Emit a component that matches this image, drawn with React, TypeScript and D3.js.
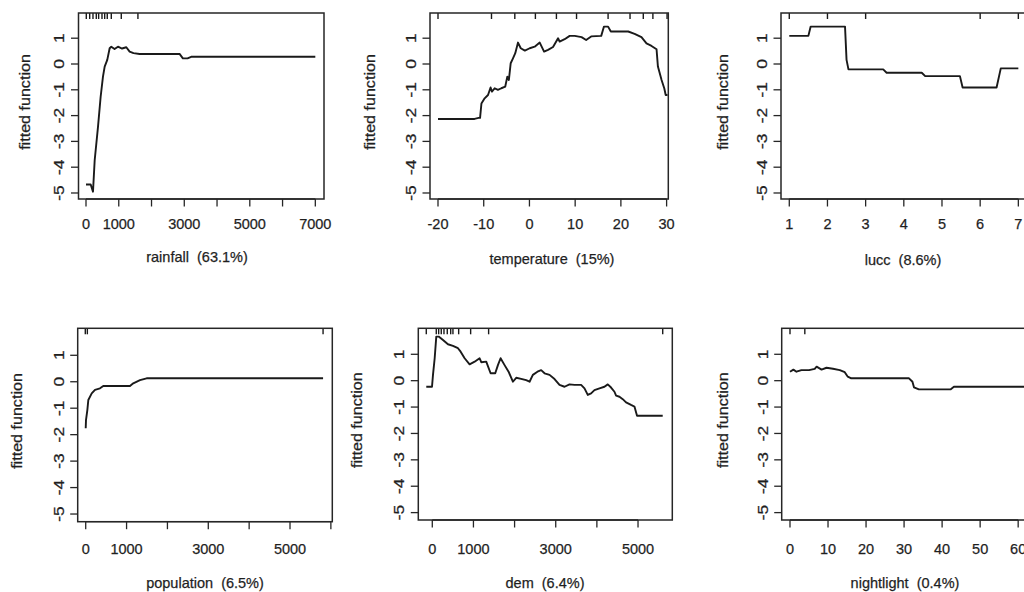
import React from "react";
import * as d3 from "d3";

// ---------- data ----------
const rainfallX = [0, 143, 213, 265, 366, 447, 518, 570, 649, 722, 772, 872, 976, 1100, 1230, 1332, 1450, 1636, 2856, 2957, 3100, 3210, 7000];
const rainfallY = [-4.67, -4.67, -4.95, -3.73, -2.44, -1.27, -0.49, -0.1, 0.16, 0.61, 0.67, 0.58, 0.67, 0.6, 0.65, 0.48, 0.42, 0.39, 0.39, 0.22, 0.22, 0.28, 0.28];
const rainfallRug = [9, 113, 213, 314, 386, 488, 570, 649, 772, 1077, 1585];
const rainfallTicks = [0, 1000, 2000, 3000, 4000, 5000, 6000, 7000];
const rainfallTickLabels = ["0", "1000", "", "3000", "", "5000", "", "7000"];

const temperatureX = [-20, -12, -11.1, -10.8, -10.5, -9.8, -9.06, -8.5, -8.2, -7.6, -6.9, -6.15, -5.3, -4.84, -4.5, -4.1, -3.6, -3.1, -2.5, -1.9, -1.0, 0.06, 1.15, 2.25, 3.2, 4.07, 5.16, 6.26, 6.6, 7.7, 8.8, 9.9, 11.4, 12.4, 13.5, 15.7, 16.3, 17.2, 17.8, 18.7, 21.6, 23.0, 24.5, 25.6, 26.7, 27.8, 28.1, 28.9, 29.5, 29.8, 30.2];
const temperatureY = [-2.13, -2.13, -2.09, -2.09, -1.53, -1.33, -1.2, -0.91, -1.07, -0.94, -1.0, -0.94, -0.88, -0.49, -0.62, 0.03, 0.22, 0.42, 0.83, 0.61, 0.52, 0.61, 0.67, 0.83, 0.48, 0.55, 0.66, 1.0, 0.87, 0.96, 1.09, 1.09, 1.04, 0.93, 1.07, 1.09, 1.45, 1.45, 1.26, 1.26, 1.26, 1.17, 1.04, 0.8, 0.7, 0.57, -0.1, -0.62, -0.95, -1.2, -1.2];
const temperatureRug = [-20, -8.3, -3.2, 1.3, 5.9, 10.3, 17.2, 22, 24.9, 27.0, 30.1];
const temperatureTicks = [-20, -10, 0, 10, 20, 30];
const temperatureTickLabels = ["-20", "-10", "0", "10", "20", "30"];

const luccX = [1, 1.5, 1.56, 2.46, 2.5, 2.55, 3.46, 3.55, 4.47, 4.56, 5.47, 5.54, 6.43, 6.54, 7];
const luccY = [1.09, 1.09, 1.45, 1.45, 0.16, -0.21, -0.21, -0.34, -0.34, -0.47, -0.47, -0.91, -0.91, -0.17, -0.17];
const luccRug = [1, 2, 3, 6, 7];
const luccTicks = [1, 2, 3, 4, 5, 6, 7];
const luccTickLabels = ["1", "2", "3", "4", "5", "6", "7"];

const populationX = [0, 7, 40, 64, 147, 227, 350, 430, 1083, 1164, 1328, 1491, 5809];
const populationY = [-1.76, -1.45, -1.07, -0.69, -0.44, -0.31, -0.25, -0.16, -0.16, -0.06, 0.06, 0.13, 0.13];
const populationRug = [-10, 40, 5809];
const populationTicks = [0, 1000, 2000, 3000, 4000, 5000, 6000];
const populationTickLabels = ["0", "1000", "", "3000", "", "5000", ""];

const demX = [-146, -7, 17, 58, 97, 155, 260, 381, 502, 624, 689, 786, 907, 1029, 1150, 1190, 1311, 1417, 1530, 1595, 1660, 1757, 1854, 1959, 2039, 2160, 2282, 2364, 2444, 2556, 2646, 2728, 2850, 2971, 3092, 3214, 3335, 3456, 3617, 3699, 3779, 3860, 3941, 4063, 4184, 4265, 4345, 4427, 4467, 4549, 4629, 4709, 4830, 4913, 4976, 5600];
const demY = [-0.23, -0.23, 0.22, 0.85, 1.67, 1.67, 1.54, 1.38, 1.32, 1.23, 1.1, 0.85, 0.62, 0.72, 0.85, 0.7, 0.72, 0.28, 0.28, 0.59, 0.85, 0.59, 0.34, -0.04, 0.11, 0.07, 0.02, -0.04, 0.22, 0.34, 0.4, 0.28, 0.22, 0.06, -0.16, -0.23, -0.14, -0.16, -0.16, -0.29, -0.54, -0.48, -0.36, -0.29, -0.23, -0.14, -0.26, -0.42, -0.57, -0.61, -0.7, -0.82, -0.92, -0.98, -1.33, -1.33];
const demRug = [-146, 97, 155, 218, 284, 364, 447, 502, 641, 932, 1369, 5600];
const demTicks = [0, 1000, 2000, 3000, 4000, 5000];
const demTickLabels = ["0", "1000", "", "3000", "", "5000"];

const nightlightX = [0, 0.9, 1.7, 3, 5, 6.5, 7, 8.3, 9.6, 11.3, 13.1, 14.4, 15.2, 16.1, 31.3, 32.2, 32.6, 33.9, 42.2, 43.1, 63];
const nightlightY = [0.34, 0.42, 0.34, 0.4, 0.4, 0.45, 0.53, 0.42, 0.49, 0.45, 0.4, 0.32, 0.15, 0.09, 0.09, -0.04, -0.25, -0.33, -0.33, -0.23, -0.23];
const nightlightRug = [0, 3.9];
const nightlightTicks = [0, 10, 20, 30, 40, 50, 60];
const nightlightTickLabels = ["0", "10", "20", "30", "40", "50", "60"];

const yTicks = [-5, -4, -3, -2, -1, 0, 1];
const yTickLabels = ["-5", "-4", "-3", "-2", "-1", "0", "1"];
const yTitle = "fitted function";
const xTitles = ["rainfall  (63.1%)", "temperature  (15%)", "lucc  (8.6%)", "population  (6.5%)", "dem  (6.4%)", "nightlight  (0.4%)"];

// ---------- layout ----------
type Box = { l: number; t: number; r: number; b: number };
type PanelSpec = {
  xs: number[]; ys: number[]; rug: number[]; ticks: number[]; tickLabels: string[]; title: string;
  box: Box; xDomain: [number, number]; yDomain: [number, number];
  ylabX: number; titleX: number; titleY: number; tickLabelY: number;
};

const panels: PanelSpec[] = [
  { xs: rainfallX, ys: rainfallY, rug: rainfallRug, ticks: rainfallTicks, tickLabels: rainfallTickLabels, title: xTitles[0],
    box: { l: 78.5, t: 13, r: 324, b: 199 }, xDomain: [-229, 7265], yDomain: [-5.233, 1.977],
    ylabX: 25, titleX: 197, titleY: 257, tickLabelY: 224 },
  { xs: temperatureX, ys: temperatureY, rug: temperatureRug, ticks: temperatureTicks, tickLabels: temperatureTickLabels, title: xTitles[1],
    box: { l: 430, t: 13, r: 668.3, b: 199 }, xDomain: [-21.75, 30.37], yDomain: [-5.233, 1.977],
    ylabX: 370, titleX: 552, titleY: 259, tickLabelY: 224 },
  { xs: luccX, ys: luccY, rug: luccRug, ticks: luccTicks, tickLabels: luccTickLabels, title: xTitles[2],
    box: { l: 781, t: 13, r: 1027.5, b: 199 }, xDomain: [0.783, 7.24], yDomain: [-5.233, 1.977],
    ylabX: 723, titleX: 903, titleY: 260, tickLabelY: 224 },
  { xs: populationX, ys: populationY, rug: populationRug, ticks: populationTicks, tickLabels: populationTickLabels, title: xTitles[3],
    box: { l: 77.7, t: 328.3, r: 332.3, b: 521.7 }, xDomain: [-196, 6035], yDomain: [-5.29, 2.02],
    ylabX: 17, titleX: 205, titleY: 583, tickLabelY: 549 },
  { xs: demX, ys: demY, rug: demRug, ticks: demTicks, tickLabels: demTickLabels, title: xTitles[4],
    box: { l: 418.3, t: 328.3, r: 672.3, b: 520 }, xDomain: [-340, 5833], yDomain: [-5.28, 1.985],
    ylabX: 357, titleX: 545, titleY: 583, tickLabelY: 549 },
  { xs: nightlightX, ys: nightlightY, rug: nightlightRug, ticks: nightlightTicks, tickLabels: nightlightTickLabels, title: xTitles[5],
    box: { l: 781.7, t: 328.3, r: 1033, b: 520 }, xDomain: [-2.18, 63.9], yDomain: [-5.28, 1.985],
    ylabX: 723, titleX: 905, titleY: 583, tickLabelY: 549 },
];

const INK = "#1a1a1a";
const TXT = "#1f1f1f";
const FONT = "'Liberation Sans', Arial, Helvetica, sans-serif";

function Panel({ p }: { p: PanelSpec }) {
  const { box } = p;
  const x = d3.scaleLinear().domain(p.xDomain).range([box.l, box.r]);
  const y = d3.scaleLinear().domain(p.yDomain).range([box.b, box.t]);
  const pts: [number, number][] = p.xs.map((v, i) => [v, p.ys[i]]);
  const line = d3.line<[number, number]>().x((d) => x(d[0])).y((d) => y(d[1]));
  const rugLen = 6;
  const tickLen = 7.5;
  const cy = (box.t + box.b) / 2 - 4;
  return (
    <g>
      <path d={line(pts) || ""} fill="none" stroke={INK} strokeWidth={1.9} strokeLinejoin="round" />
      {p.rug.map((v, i) => (
        <line key={"r" + i} x1={x(v)} x2={x(v)} y1={box.t} y2={box.t + rugLen} stroke={INK} strokeWidth={1.4} />
      ))}
      <rect x={box.l} y={box.t} width={box.r - box.l} height={box.b - box.t} fill="none" stroke="#262626" strokeWidth={1.5} />
      <line x1={x(p.ticks[0])} x2={x(p.ticks[p.ticks.length - 1])} y1={box.b} y2={box.b} stroke="#262626" strokeWidth={1.3} />
      {p.ticks.map((v, i) => (
        <g key={"x" + i}>
          <line x1={x(v)} x2={x(v)} y1={box.b} y2={box.b + tickLen} stroke="#262626" strokeWidth={1.3} />
          {p.tickLabels[i] ? (
            <text x={x(v)} y={p.tickLabelY} textAnchor="middle" dominantBaseline="central" fontSize={14.5}
              fill={TXT} fontFamily={FONT} stroke={TXT} strokeWidth={0.25}>
              {p.tickLabels[i]}
            </text>
          ) : null}
        </g>
      ))}
      {yTicks.map((v, i) => (
        <g key={"y" + i}>
          <line x1={box.l - tickLen} x2={box.l} y1={y(v)} y2={y(v)} stroke="#262626" strokeWidth={1.3} />
          <text transform={`translate(${box.l - 19},${y(v)}) rotate(-90) scale(1.2,1)`} textAnchor="middle" dominantBaseline="central"
            fontSize={14.5} fill={TXT} fontFamily={FONT} stroke={TXT} strokeWidth={0.25}>
            {yTickLabels[i]}
          </text>
        </g>
      ))}
      <text transform={`translate(${p.ylabX},${cy}) rotate(-90) scale(1.15,1)`} textAnchor="middle" dominantBaseline="central"
        fontSize={14} fill={TXT} fontFamily={FONT} stroke={TXT} strokeWidth={0.25}>
        {yTitle}
      </text>
      <text x={p.titleX} y={p.titleY} textAnchor="middle" dominantBaseline="central" fontSize={14.5}
        fill={TXT} fontFamily={FONT} stroke={TXT} strokeWidth={0.25} style={{ whiteSpace: "pre" }}>
        {p.title}
      </text>
    </g>
  );
}

export default function App() {
  return (
    <svg width={1024} height={592} viewBox="0 0 1024 592"
      style={{ position: "absolute", left: 0, top: 0, background: "#fff", display: "block" }}>
      <rect x={0} y={0} width={1024} height={592} fill="#fff" />
      {panels.map((p, i) => (
        <Panel key={i} p={p} />
      ))}
    </svg>
  );
}
